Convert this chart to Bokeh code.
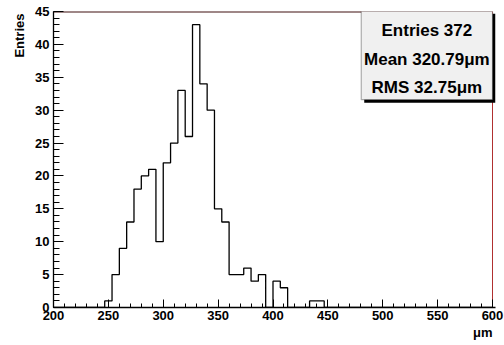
import numpy as np
from bokeh.plotting import figure
from bokeh.models import Range1d, SingleIntervalTicker, Label, ColumnDataSource, BoxAnnotation, Title
from bokeh.embed import file_html
from bokeh.resources import INLINE

# Histogram: 60 bins from 200 to 600 um
x_min = 200
x_max = 600
n_bins = 60
counts = [0, 0, 0, 0, 0, 0, 0, 1, 5, 9,
          13, 18, 20, 21, 10, 22, 25, 33, 26, 43,
          34, 30, 15, 13, 5, 5, 6, 4, 5, 0,
          4, 3, 0, 0, 0, 1, 1, 0, 0, 0,
          0, 0, 0, 0, 0, 0, 0, 0, 0, 0,
          0, 0, 0, 0, 0, 0, 0, 0, 0, 0]
stats_lines = ["Entries 372", "Mean 320.79\u03bcm", "RMS 32.75\u03bcm"]
x_title = "\u03bcm"
y_title = "Entries"

FONT = "Liberation Sans"
PX_PER_X = 439.0 / (x_max - x_min)   # frame px per x unit
PX_PER_Y = 296.0 / 45.0
x_end = x_max + 3 / PX_PER_X          # 3 px of room for the stats-box shadow

edges = np.linspace(x_min, x_max, n_bins + 1)
ys = list(counts) + [0]
src = ColumnDataSource(dict(x=edges, y=ys))

p = figure(width=504, height=345, output_backend="svg", toolbar_location=None,
           x_range=Range1d(x_min, x_end), y_range=Range1d(0, 45),
           min_border_left=53, min_border_right=9, min_border_top=11, min_border_bottom=38)
p.outline_line_color = None
p.background_fill_color = "white"
p.border_fill_color = "white"
p.xgrid.visible = False
p.ygrid.visible = False

# frame top and right borders
p.line(x=[x_min, x_max], y=[45, 45], line_color="#401010", line_width=2)
p.line(x=[x_max, x_max], y=[0, 45], line_color="#b03030", line_width=1)

p.step(x="x", y="y", source=src, mode="after", line_color="black", line_width=1.3)

for ax, major_in, minor_in in ((p.xaxis[0], 8, 4), (p.yaxis[0], 10, 6)):
    ax.major_tick_in = major_in
    ax.major_tick_out = 0
    ax.minor_tick_in = minor_in
    ax.minor_tick_out = 0
    ax.axis_line_color = "black"
    ax.axis_line_width = 1.3
    ax.major_tick_line_color = "black"
    ax.minor_tick_line_color = "black"
    ax.major_label_text_font = FONT
    ax.major_label_text_font_style = "bold"
    ax.major_label_text_font_size = "13px"
    ax.major_label_text_color = "black"

p.xaxis.ticker = SingleIntervalTicker(interval=50, num_minor_ticks=5)
p.yaxis.ticker = SingleIntervalTicker(interval=5, num_minor_ticks=5)
p.xaxis.major_label_standoff = 3
p.yaxis.major_label_standoff = 4

# stats box with shadow
sx = 3 / PX_PER_X
sy = 3 / PX_PER_Y
box_l, box_r, box_t, box_b = 480.4, x_max, 45.1, 31.6
p.add_layout(BoxAnnotation(left=box_l + sx, right=box_r + sx, top=box_t - sy, bottom=box_b - sy,
                           fill_color="black", fill_alpha=1.0, line_color=None))
p.add_layout(BoxAnnotation(left=box_l, right=box_r, top=box_t, bottom=box_b,
                           fill_color="#f0f0f0", fill_alpha=1.0, line_color="black",
                           line_width=1.2))
for txt, yy in zip(stats_lines, [42.04, 37.70, 33.44]):
    p.add_layout(Label(x=(box_l + box_r) / 2, y=yy, text=txt, text_align="center",
                       text_baseline="middle", text_font=FONT, text_font_style="bold",
                       text_font_size="17px", text_color="black"))

p.add_layout(Title(text=x_title, align="right", offset=3, text_font=FONT,
                   text_font_style="bold", text_font_size="13px", text_color="black",
                   standoff=0), "below")
p.add_layout(Title(text=y_title, align="right", offset=2, text_font=FONT,
                   text_font_style="bold", text_font_size="13px", text_color="black",
                   standoff=12), "left")

open("out.html", "w").write(file_html(p, INLINE))
